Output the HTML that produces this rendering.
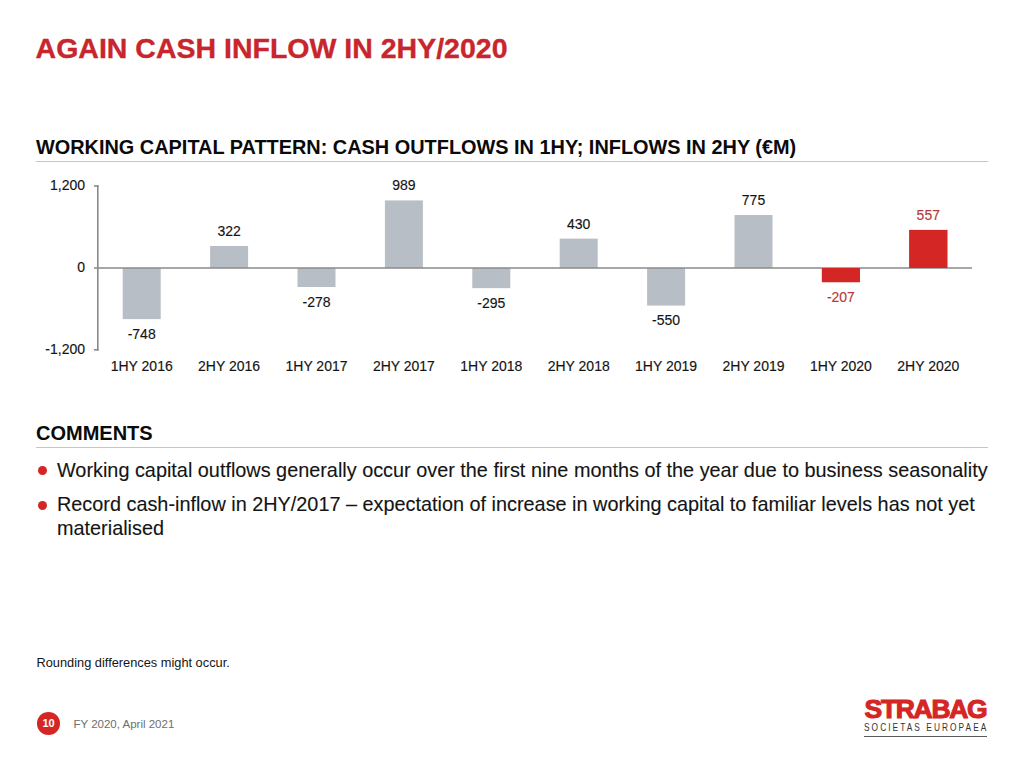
<!DOCTYPE html>
<html><head><meta charset="utf-8"><style>
html,body{margin:0;padding:0;background:#fff;}
body{width:1024px;height:768px;position:relative;overflow:hidden;font-family:"Liberation Sans",sans-serif;}
.a{position:absolute;white-space:pre;line-height:1;}
.s{-webkit-text-stroke:0.12px currentColor;}
.rule{position:absolute;height:1px;background:#c1c6c8;}
.dot{position:absolute;width:9px;height:9px;border-radius:50%;background:#d42625;}
</style></head><body>
<div class="a" style="left:35.6px;top:34px;font-size:28.5px;font-weight:bold;color:#c9252c;-webkit-text-stroke:0.35px #c9252c;">AGAIN CASH INFLOW IN 2HY/2020</div>
<div class="a" style="left:36px;top:137.5px;font-size:19.9px;font-weight:bold;color:#0a0a0a;">WORKING CAPITAL PATTERN: CASH OUTFLOWS IN 1HY; INFLOWS IN 2HY (€M)</div>
<div class="rule" style="left:36px;top:161px;width:952px;"></div>
<svg width="1024" height="400" viewBox="0 0 1024 400" style="position:absolute;left:0;top:0">
<g stroke="#8a8a8a" stroke-width="1.6" fill="none">
<line x1="97.8" y1="185.2" x2="97.8" y2="350.6"/>
<line x1="94" y1="186" x2="98.6" y2="186"/>
<line x1="94" y1="349.8" x2="98.6" y2="349.8"/>
</g>
<rect x="122.70" y="268.00" width="38" height="51.11" fill="#b7bec5"/><rect x="210.10" y="246.00" width="38" height="22.00" fill="#b7bec5"/><rect x="297.50" y="268.00" width="38" height="19.00" fill="#b7bec5"/><rect x="384.90" y="200.42" width="38" height="67.58" fill="#b7bec5"/><rect x="472.30" y="268.00" width="38" height="20.16" fill="#b7bec5"/><rect x="559.70" y="238.62" width="38" height="29.38" fill="#b7bec5"/><rect x="647.10" y="268.00" width="38" height="37.58" fill="#b7bec5"/><rect x="734.50" y="215.04" width="38" height="52.96" fill="#b7bec5"/><rect x="821.90" y="268.00" width="38" height="14.14" fill="#d42625"/><rect x="909.30" y="229.94" width="38" height="38.06" fill="#d42625"/>
<line x1="94" y1="268.0" x2="972" y2="268.0" stroke="#8a8a8a" stroke-width="1.6"/>
<rect x="821.90" y="268.00" width="38" height="14.14" fill="#d42625"/><rect x="909.30" y="229.94" width="38" height="38.06" fill="#d42625"/>
<g font-family="Liberation Sans, sans-serif" font-size="14" text-anchor="end" fill="#141414" stroke="#141414" stroke-width="0.15">
<text x="85" y="190.2">1,200</text><text x="85" y="271.6">0</text><text x="85" y="353.8">-1,200</text>
</g>
<g font-family="Liberation Sans, sans-serif" font-size="14" text-anchor="middle" fill="#141414" stroke="#141414" stroke-width="0.15">
<text x="141.70" y="338.61" fill="#141414" stroke="#141414">-748</text><text x="229.10" y="236.00" fill="#141414" stroke="#141414">322</text><text x="316.50" y="306.50" fill="#141414" stroke="#141414">-278</text><text x="403.90" y="190.42" fill="#141414" stroke="#141414">989</text><text x="491.30" y="307.66" fill="#141414" stroke="#141414">-295</text><text x="578.70" y="228.62" fill="#141414" stroke="#141414">430</text><text x="666.10" y="325.08" fill="#141414" stroke="#141414">-550</text><text x="753.50" y="205.04" fill="#141414" stroke="#141414">775</text><text x="840.90" y="301.64" fill="#b43b37" stroke="#b43b37">-207</text><text x="928.30" y="219.94" fill="#b43b37" stroke="#b43b37">557</text>
<text x="141.70" y="371.1">1HY 2016</text><text x="229.10" y="371.1">2HY 2016</text><text x="316.50" y="371.1">1HY 2017</text><text x="403.90" y="371.1">2HY 2017</text><text x="491.30" y="371.1">1HY 2018</text><text x="578.70" y="371.1">2HY 2018</text><text x="666.10" y="371.1">1HY 2019</text><text x="753.50" y="371.1">2HY 2019</text><text x="840.90" y="371.1">1HY 2020</text><text x="928.30" y="371.1">2HY 2020</text>
</g>
</svg>
<div class="a" style="left:36px;top:422.5px;font-size:20px;font-weight:bold;color:#0a0a0a;">COMMENTS</div>
<div class="rule" style="left:36px;top:447px;width:952px;"></div>
<div class="dot" style="left:37.8px;top:466.3px;"></div>
<div class="a s" style="left:57px;top:460.5px;font-size:19.85px;color:#141414;">Working capital outflows generally occur over the first nine months of the year due to business seasonality</div>
<div class="dot" style="left:38px;top:500.5px;"></div>
<div class="a s" style="left:57px;top:493px;font-size:19.85px;color:#141414;line-height:23.7px;">Record cash-inflow in 2HY/2017 – expectation of increase in working capital to familiar levels has not yet
materialised</div>
<div class="a" style="left:36.5px;top:656.5px;font-size:12.8px;color:#141414;">Rounding differences might occur.</div>
<div style="position:absolute;left:36.8px;top:712px;width:23.5px;height:23px;border-radius:50%;background:#d42625;color:#fff;font-size:11px;font-weight:bold;text-align:center;line-height:23px;">10</div>
<div class="a" style="left:73.5px;top:718.5px;font-size:11.5px;color:#6e6e6e;">FY 2020, April 2021</div>
<div class="a" style="left:864.5px;top:696.3px;font-size:26.5px;font-weight:bold;color:#d42625;letter-spacing:-1.3px;-webkit-text-stroke:1.1px #d42625;">STRABAG</div>
<div class="a" style="left:864px;top:722.6px;font-size:10.4px;color:#333;letter-spacing:2.58px;transform:scaleX(0.8);transform-origin:0 0;">SOCIETAS EUROPAEA</div>
<div style="position:absolute;left:864px;top:735.6px;width:122.5px;height:1.4px;background:#5a5a5a;"></div>
</body></html>
